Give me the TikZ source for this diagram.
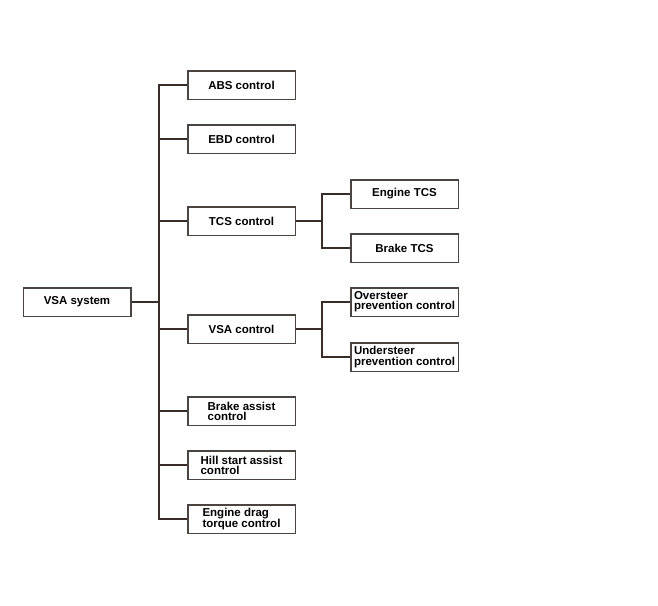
\documentclass[tikz,border=0pt]{standalone}
\usepackage{fontspec}
\setmainfont{Liberation Sans}
\begin{document}
\begin{tikzpicture}[x=1pt,y=-1pt,
  box/.style={draw=boxc,line width=1.5pt,fill=white,inner sep=0pt,
    minimum width=107.5pt,minimum height=28.5pt,align=left,
    font=\fontsize{11.5}{10.2}\selectfont\bfseries,text=black},
  conn/.style={draw=linec,line width=1.9pt,line join=miter}]
\definecolor{linec}{HTML}{3A2C26}
\definecolor{boxc}{HTML}{4A4542}
\useasboundingbox (0,0) rectangle (658,605);
% nodes
\node[box] (root) at (77,302) {VSA system};
\node[box] (abs) at (241.5,85) {ABS control};
\node[box] (ebd) at (241.5,139) {EBD control};
\node[box] (tcs) at (241.5,221) {TCS control};
\node[box] (vsa) at (241.5,329) {VSA control};
\node[box] (bas) at (241.5,411) {Brake assist\\control};
\node[box] (hsa) at (241.5,465) {Hill start assist\\control};
\node[box] (edc) at (241.5,519) {Engine drag\\torque control};
\node[box] (etcs) at (404.5,194) {Engine TCS};
\node[box] (btcs) at (404.5,248) {Brake TCS};
\node[box] (over) at (404.5,302) {Oversteer\\prevention control};
\node[box] (under) at (404.5,357) {Understeer\\prevention control};
% junctions
\coordinate (j0) at (159,302);
\coordinate (j1) at (322,221);
\coordinate (j2) at (322,329);
% connectors
\draw[conn] (root.east) -- (j0);
\foreach \n in {abs,ebd,tcs,vsa,bas,hsa,edc} \draw[conn] (j0) |- (\n.west);
\draw[conn] (tcs.east) -- (j1);
\foreach \n in {etcs,btcs} \draw[conn] (j1) |- (\n.west);
\draw[conn] (vsa.east) -- (j2);
\foreach \n in {over,under} \draw[conn] (j2) |- (\n.west);
\end{tikzpicture}
\end{document}
